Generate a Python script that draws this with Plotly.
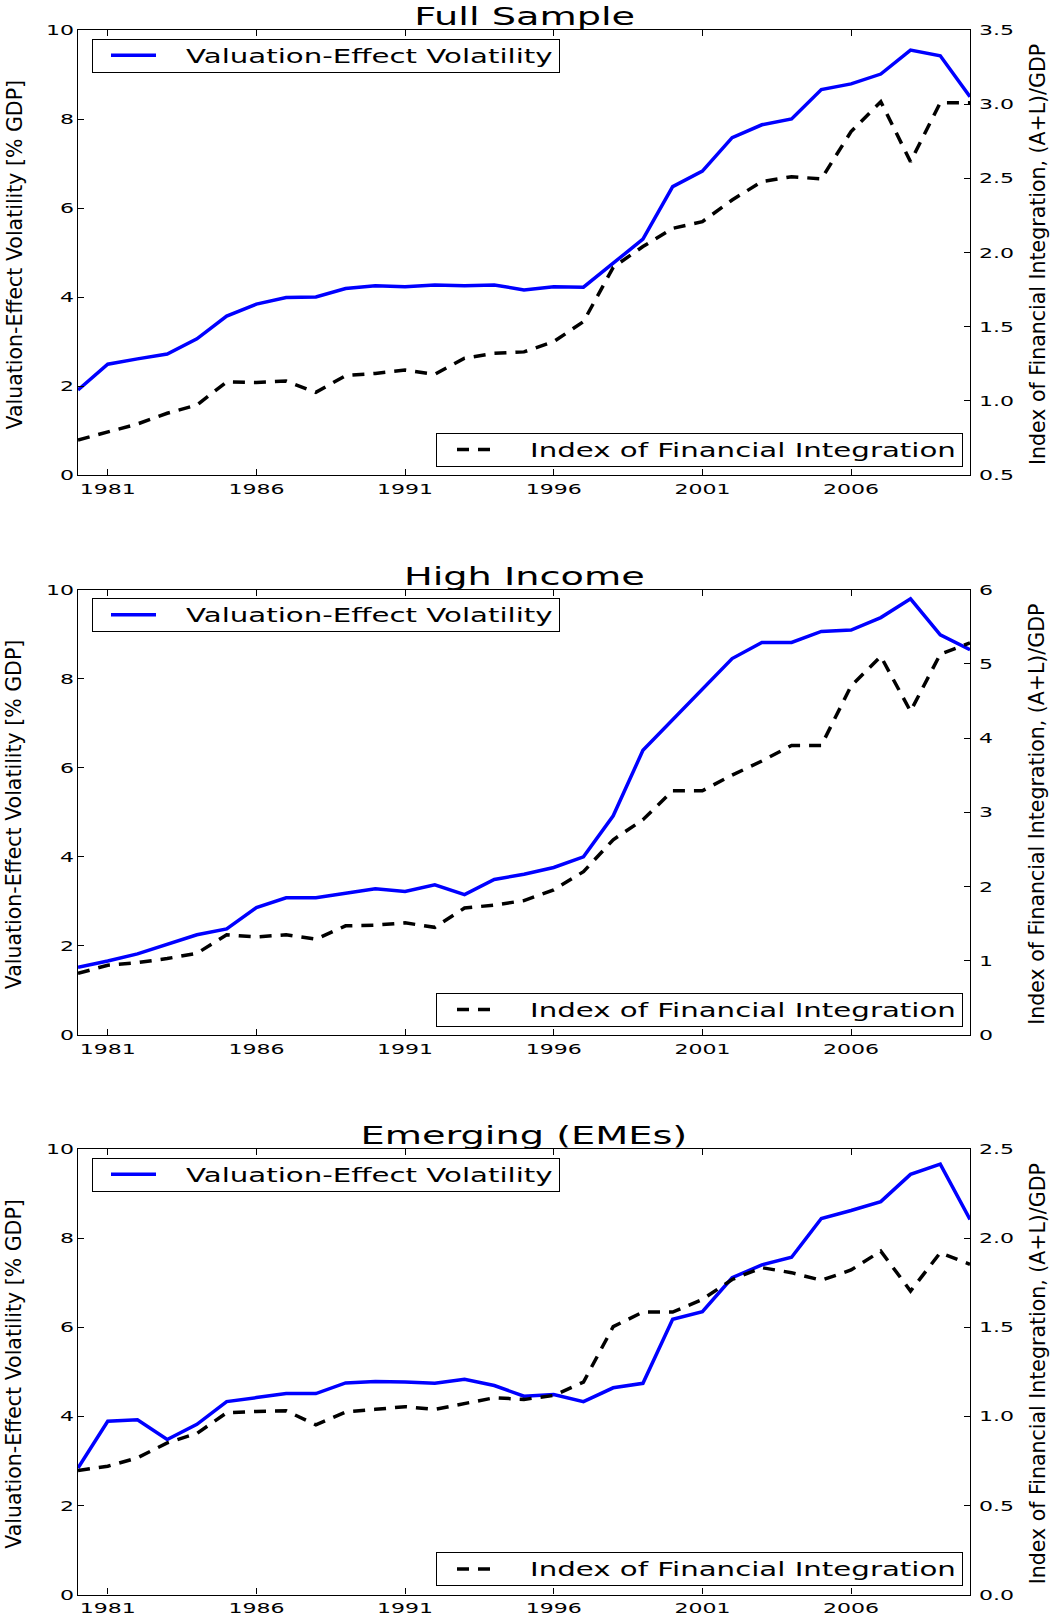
import plotly.graph_objects as go

# ---------------- data ----------------
years = list(range(1980, 2011))

full_vev = [1.91, 2.49, 2.61, 2.72, 3.06, 3.57, 3.84, 3.99, 4.00, 4.19, 4.25,
            4.23, 4.27, 4.25, 4.27, 4.16, 4.23, 4.22, 4.76, 5.30, 6.48, 6.83,
            7.58, 7.87, 8.00, 8.66, 8.79, 9.01, 9.55, 9.42, 8.50]
full_ifi = [0.736, 0.792, 0.844, 0.916, 0.972, 1.128, 1.124, 1.133, 1.057, 1.170,
            1.185, 1.207, 1.179, 1.287, 1.320, 1.330, 1.399, 1.534, 1.900, 2.040,
            2.163, 2.208, 2.354, 2.478, 2.511, 2.496, 2.815, 3.017, 2.612, 3.010, 3.010]

high_vev = [1.52, 1.66, 1.82, 2.04, 2.25, 2.38, 2.86, 3.08, 3.08, 3.18, 3.28,
            3.22, 3.37, 3.15, 3.49, 3.61, 3.76, 4.00, 4.92, 6.39, 7.08, 7.76,
            8.45, 8.81, 8.81, 9.06, 9.09, 9.37, 9.79, 8.98, 8.65]
high_ifi = [0.83, 0.94, 0.975, 1.03, 1.10, 1.35, 1.32, 1.35, 1.29, 1.47, 1.48,
            1.51, 1.45, 1.71, 1.75, 1.81, 1.955, 2.20, 2.63, 2.90, 3.29, 3.29,
            3.50, 3.69, 3.90, 3.90, 4.70, 5.10, 4.36, 5.13, 5.28]

eme_vev = [2.84, 3.89, 3.92, 3.48, 3.82, 4.33, 4.42, 4.51, 4.51, 4.75, 4.78,
           4.77, 4.74, 4.83, 4.69, 4.45, 4.49, 4.33, 4.64, 4.74, 6.18, 6.35,
           7.11, 7.40, 7.57, 8.44, 8.62, 8.82, 9.43, 9.66, 8.42]
eme_ifi = [0.696, 0.720, 0.767, 0.851, 0.904, 1.020, 1.027, 1.031, 0.952, 1.024,
           1.039, 1.054, 1.039, 1.072, 1.104, 1.095, 1.117, 1.192, 1.503, 1.585,
           1.585, 1.656, 1.768, 1.834, 1.806, 1.763, 1.821, 1.927, 1.703, 1.918, 1.853]

panel_titles = ["Full Sample", "High Income", "Emerging (EMEs)"]
vev_series = [full_vev, high_vev, eme_vev]
ifi_series = [full_ifi, high_ifi, eme_ifi]

xtick_vals = [1981, 1986, 1991, 1996, 2001, 2006]
left_range = [0, 10]
left_dtick = 2
right_ranges = [[0.5, 3.5], [0, 6], [0, 2.5]]
right_dticks = [0.5, 1, 0.5]
right_formats = [".1f", "d", ".1f"]

vev_name = "Valuation-Effect Volatility"
ifi_name = "Index of Financial Integration"
left_title = "Valuation-Effect Volatility [% GDP]"
right_title = "Index of Financial Integration, (A+L)/GDP"

# ---------------- layout geometry ----------------
W, H = 1050, 1616
ML, MR = 78, 80
panel_top_px = [30, 589.5, 1149]
panel_bot_px = [475, 1035, 1594.5]
PW = W - ML - MR

FONT = "DejaVu Sans"
STRETCH = 1.5            # horizontal glyph stretch seen in the original picture
TICK_SIZE = 14.7
LEG_SIZE = 19.5
TITLE_SIZE = 25.5
AXT_SIZE = 20.5

fig = go.Figure()
layout = dict(
    width=W, height=H,
    margin=dict(l=ML, r=MR, t=0, b=0, autoexpand=False),
    paper_bgcolor="white", plot_bgcolor="white",
    font=dict(family=FONT, color="black"),
    showlegend=True,
)
annotations = []

for i in range(3):
    xid = "x" if i == 0 else f"x{i+1}"
    yl = "y" if i == 0 else f"y{2*i+1}"
    yr = f"y{2*i+2}"
    xkey = "xaxis" if i == 0 else f"xaxis{i+1}"
    ylkey = "yaxis" if i == 0 else f"yaxis{2*i+1}"
    yrkey = f"yaxis{2*i+2}"
    leg1 = "legend" if i == 0 else f"legend{2*i+1}"
    leg2 = f"legend{2*i+2}"

    d0 = (H - panel_bot_px[i]) / H
    d1 = (H - panel_top_px[i]) / H

    fig.add_trace(go.Scatter(
        x=years, y=vev_series[i], mode="lines", name=vev_name,
        line=dict(color="#0000ff", width=3.5),
        xaxis=xid, yaxis=yl, legend=leg1, showlegend=True))
    fig.add_trace(go.Scatter(
        x=years, y=ifi_series[i], mode="lines", name=ifi_name,
        line=dict(color="black", width=3.5, dash="12px,9px"),
        xaxis=xid, yaxis=yr, legend=leg2, showlegend=True))

    common = dict(ticks="inside", ticklen=6, tickwidth=1, tickcolor="black",
                  showline=True, linecolor="black", linewidth=1.2,
                  showgrid=False, zeroline=False,
                  tickfont=dict(family=FONT, size=TICK_SIZE, color="black"))
    layout[xkey] = dict(
        common, domain=[0, 1], anchor=yl, range=[1980, 2010],
        tickmode="array", tickvals=xtick_vals, mirror="ticks")
    layout[ylkey] = dict(
        common, domain=[d0, d1], anchor=xid, range=left_range,
        tickmode="linear", tick0=0, dtick=left_dtick, side="left")
    layout[yrkey] = dict(
        common, overlaying=yl, anchor=xid, side="right", range=right_ranges[i],
        tickmode="linear", tick0=0, dtick=right_dticks[i],
        tickformat=right_formats[i], ticklabelstandoff=5)

    legstyle = dict(
        xref="paper", yref="paper", bgcolor="white",
        bordercolor="black", borderwidth=1, xanchor="left", yanchor="middle",
        font=dict(family=FONT, size=LEG_SIZE, color="black"),
        itemwidth=83, tracegroupgap=0)
    layout[leg1] = dict(legstyle, x=(92 - ML) / PW,
                        y=(H - (panel_top_px[i] + 25.5)) / H)
    layout[leg2] = dict(legstyle, x=(436 - ML) / PW,
                        y=(H - (panel_bot_px[i] - 25.3)) / H)

    annotations.append(dict(
        text=panel_titles[i], xref="paper", yref="paper",
        x=0.5, y=d1, xanchor="center", yanchor="bottom", yshift=-3,
        showarrow=False, font=dict(family=FONT, size=TITLE_SIZE, color="black")))
    ymid = (H - (panel_top_px[i] + panel_bot_px[i]) / 2 - 2) / H
    annotations.append(dict(
        text=left_title, xref="paper", yref="paper",
        x=(14 - ML) / PW, y=ymid, xanchor="center", yanchor="middle",
        textangle=-90, showarrow=False,
        font=dict(family=FONT, size=AXT_SIZE, color="black")))
    annotations.append(dict(
        text=right_title, xref="paper", yref="paper",
        x=(1037.5 - ML) / PW, y=ymid, xanchor="center", yanchor="middle",
        textangle=-90, showarrow=False,
        font=dict(family=FONT, size=AXT_SIZE, color="black")))

layout["annotations"] = annotations
fig.update_layout(**layout)

# The original picture was rendered with horizontally stretched glyphs:
# reproduce it by adjusting the rendered lengths of the horizontal SVG texts
# (idempotent, re-run after every redraw).
post_js = """
(function(){
  document.body.style.margin = '0';
  var F = %s;
  var gd = document.getElementById('{plot_id}');
  if (!gd) return;
  var LEGTXT = /(^|\\s)legend\\d*text(\\s|$)/;
  var LEGLINE = /^M\\d+(\\.\\d+)?,0h\\d+(\\.\\d+)?$/;
  function rotated(el){
    var n = el;
    while (n && n.tagName && n.tagName.toLowerCase() !== 'svg') {
      var tr = n.getAttribute && n.getAttribute('transform');
      if (tr) {
        var m = tr.match(/rotate\\(\\s*(-?[\\d.]+)/);
        if (m && Math.abs(parseFloat(m[1])) > 1) return true;
      }
      n = n.parentNode;
    }
    return false;
  }
  function stretchText(t){
    var txt = t.textContent;
    if (!txt || !txt.trim()) return 0;
    if (rotated(t)) return 0;
    t.removeAttribute('textLength');
    t.removeAttribute('lengthAdjust');
    var w = t.getComputedTextLength();
    if (!w) return 0;
    t.setAttribute('lengthAdjust', 'spacingAndGlyphs');
    t.setAttribute('textLength', (w * F).toFixed(2));
    return w * F;
  }
  function run(){
    gd.querySelectorAll('svg text').forEach(function(t){
      if (!LEGTXT.test(t.getAttribute('class') || '')) stretchText(t);
    });
    gd.querySelectorAll('rect.bg').forEach(function(bg){
      var lg = bg.parentNode;
      if (!lg || !lg.querySelectorAll) return;
      var texts = [];
      lg.querySelectorAll('text').forEach(function(t){
        if (LEGTXT.test(t.getAttribute('class') || '')) texts.push(t);
      });
      if (!texts.length) return;
      var maxW = 0;
      texts.forEach(function(t){ maxW = Math.max(maxW, stretchText(t)); });
      bg.setAttribute('width', (maxW + 100).toFixed(2));
      var h = parseFloat(bg.getAttribute('height'));
      if (Math.abs(h - 33) > 0.01) {
        bg.dataset.natH = h;
        bg.dataset.natY = parseFloat(bg.getAttribute('y') || 0);
      }
      var nh = parseFloat(bg.dataset.natH || 33), ny = parseFloat(bg.dataset.natY || 0);
      bg.setAttribute('y', (ny + (nh - 33) / 2).toFixed(2));
      bg.setAttribute('height', 33);
      lg.querySelectorAll('[clip-path]').forEach(function(e){ e.removeAttribute('clip-path'); });
      lg.querySelectorAll('path').forEach(function(p){
        var d = (p.getAttribute('d') || '').replace(/\\s+/g, '');
        if (!LEGLINE.test(d)) return;
        var st = (p.getAttribute('style') || '');
        if (st.indexOf('dasharray') >= 0 && st.indexOf('dasharray: none') < 0)
          p.setAttribute('d', 'M20,0h37');
        else p.setAttribute('d', 'M18,0h45');
      });
    });
  }
  run();
  if (gd.on) gd.on('plotly_afterplot', function(){ setTimeout(run, 0); });
  [30, 150, 400, 900, 1800].forEach(function(ms){ setTimeout(run, ms); });
})();
""" % (STRETCH,)

fig.write_html("out.html", post_script=post_js,
               config={"displayModeBar": False})
